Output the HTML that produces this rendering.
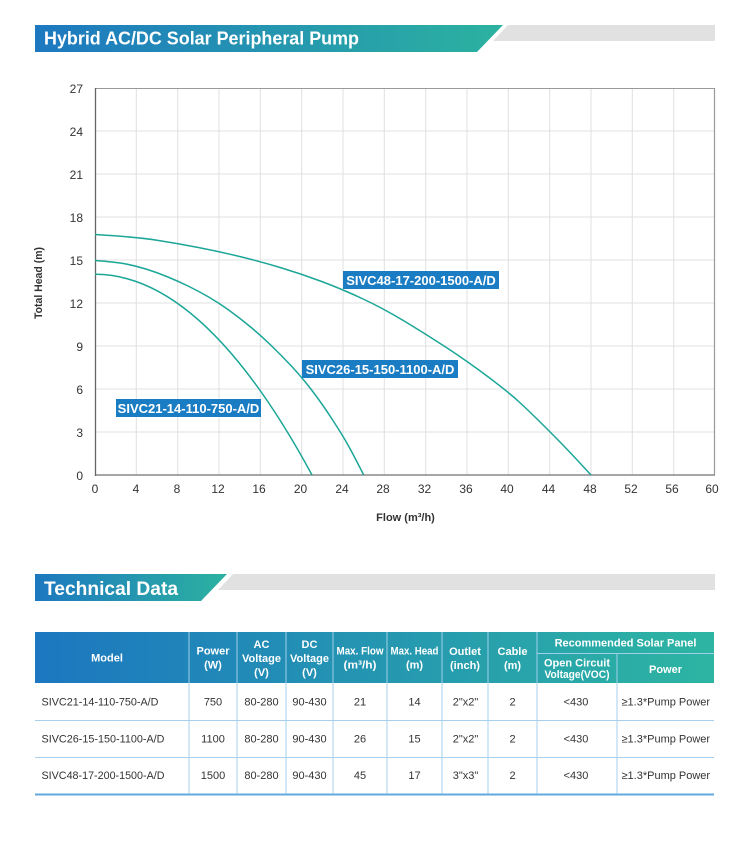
<!DOCTYPE html>
<html><head><meta charset="utf-8"><style>
html,body{margin:0;padding:0;background:#fff;}
svg{display:block;font-family:"Liberation Sans",Arial,sans-serif;}
</style></head><body>
<svg width="750" height="847" viewBox="0 0 750 847" xmlns="http://www.w3.org/2000/svg">
<defs>
<linearGradient id="g1" x1="35" y1="0" x2="503" y2="0" gradientUnits="userSpaceOnUse">
<stop offset="0" stop-color="#1d78c0"/><stop offset="1" stop-color="#2cb2a0"/></linearGradient>
<linearGradient id="g2" x1="35" y1="0" x2="227" y2="0" gradientUnits="userSpaceOnUse">
<stop offset="0" stop-color="#1d78c0"/><stop offset="1" stop-color="#2cb2a0"/></linearGradient>
<linearGradient id="g3" x1="35" y1="0" x2="714" y2="0" gradientUnits="userSpaceOnUse">
<stop offset="0" stop-color="#1c77c0"/><stop offset="1" stop-color="#2db5a2"/></linearGradient>
</defs>
<rect width="750" height="847" fill="#fff"/>

<!-- Banner 1 -->
<polygon points="508,25 715,25 715,41 493,41" fill="#e1e1e1"/>
<polygon points="35,25 503,25 477,52 35,52" fill="url(#g1)"/>
<text x="44" y="44.5" font-size="18" font-weight="bold" fill="#fff" textLength="315" lengthAdjust="spacingAndGlyphs">Hybrid AC/DC Solar Peripheral Pump</text>

<!-- Chart grid -->
<g stroke="#e0e0e0" stroke-width="1">
<line x1="136.3" y1="88" x2="136.3" y2="475"/><line x1="177.7" y1="88" x2="177.7" y2="475"/>
<line x1="219" y1="88" x2="219" y2="475"/><line x1="260.3" y1="88" x2="260.3" y2="475"/>
<line x1="301.7" y1="88" x2="301.7" y2="475"/><line x1="343" y1="88" x2="343" y2="475"/>
<line x1="384.3" y1="88" x2="384.3" y2="475"/><line x1="425.7" y1="88" x2="425.7" y2="475"/>
<line x1="467" y1="88" x2="467" y2="475"/><line x1="508.3" y1="88" x2="508.3" y2="475"/>
<line x1="549.7" y1="88" x2="549.7" y2="475"/><line x1="591" y1="88" x2="591" y2="475"/>
<line x1="632.3" y1="88" x2="632.3" y2="475"/><line x1="673.7" y1="88" x2="673.7" y2="475"/>
<line x1="95" y1="131" x2="715" y2="131"/><line x1="95" y1="174" x2="715" y2="174"/>
<line x1="95" y1="217" x2="715" y2="217"/><line x1="95" y1="260" x2="715" y2="260"/>
<line x1="95" y1="303" x2="715" y2="303"/><line x1="95" y1="346" x2="715" y2="346"/>
<line x1="95" y1="389" x2="715" y2="389"/><line x1="95" y1="432" x2="715" y2="432"/>
</g>
<line x1="95" y1="88.5" x2="715" y2="88.5" stroke="#999" stroke-width="1"/>
<line x1="714.5" y1="88" x2="714.5" y2="475" stroke="#999" stroke-width="1.2"/>
<line x1="95" y1="475" x2="715" y2="475" stroke="#888" stroke-width="1.5"/>
<line x1="95.5" y1="88" x2="95.5" y2="476" stroke="#666" stroke-width="1.3"/>

<!-- Y tick labels -->
<g font-size="12" fill="#333" text-anchor="end">
<text x="83" y="93">27</text><text x="83" y="136">24</text><text x="83" y="179">21</text>
<text x="83" y="222">18</text><text x="83" y="265">15</text><text x="83" y="308">12</text>
<text x="83" y="351">9</text><text x="83" y="394">6</text><text x="83" y="437">3</text>
<text x="83" y="480">0</text>
</g>
<!-- X tick labels -->
<g font-size="12" fill="#333" text-anchor="middle">
<text x="95" y="493">0</text><text x="136" y="493">4</text><text x="177" y="493">8</text>
<text x="218" y="493">12</text><text x="259" y="493">16</text><text x="300.5" y="493">20</text>
<text x="342" y="493">24</text><text x="383" y="493">28</text><text x="424.5" y="493">32</text>
<text x="466" y="493">36</text><text x="507" y="493">40</text><text x="548.5" y="493">44</text>
<text x="590" y="493">48</text><text x="631" y="493">52</text><text x="672" y="493">56</text>
<text x="712" y="493">60</text>
</g>
<text x="0" y="0" transform="translate(42,283) rotate(-90)" font-size="11" font-weight="bold" fill="#333" text-anchor="middle" textLength="72" lengthAdjust="spacingAndGlyphs">Total Head (m)</text>
<text x="405.5" y="521" font-size="11" font-weight="bold" fill="#333" text-anchor="middle">Flow (m³/h)</text>

<!-- Curves -->
<g fill="none" stroke="#1ba697" stroke-width="1.5" stroke-linejoin="round">
<path d="M95,274.3 Q203.5,274.3 312,475"/>
<path d="M95,260.5 Q115.7,262 126,264 Q136.3,266 146.65,269.25 Q157,272.5 167.35,276.75 Q177.7,281 188,286 Q198.3,291 208.65,297 Q219,303 229.35,310.5 Q239.7,318 250,326.5 Q260.3,335 270.65,345 Q281,355 291.35,366 Q301.7,377 312,390.5 Q322.3,404 332.65,420 Q343,436 348.15,445.25 Q353.3,454.5 363.7,475"/>
<path d="M95,234.5 Q136.3,237 157,240.25 Q177.7,243.5 198.35,247.5 Q219,251.5 239.65,256.5 Q260.3,261.5 281,267.75 Q301.7,274 322.35,281.75 Q343,289.5 363.65,299.25 Q384.3,309 405,321.5 Q425.7,334 446.35,347.5 Q467,361 487.65,376.5 Q508.3,392 518.65,401.5 Q529,411 539.35,421.25 Q549.7,431.5 560,442 Q570.3,452.5 591,475"/>
</g>

<!-- Curve labels -->
<rect x="343" y="271" width="156" height="18" fill="#1a7cc3"/>
<text x="421" y="285" font-size="13" font-weight="bold" fill="#fff" text-anchor="middle">SIVC48-17-200-1500-A/D</text>
<rect x="302" y="360" width="156" height="18" fill="#1a7cc3"/>
<text x="380" y="374" font-size="13" font-weight="bold" fill="#fff" text-anchor="middle">SIVC26-15-150-1100-A/D</text>
<rect x="116" y="399" width="145" height="18" fill="#1a7cc3"/>
<text x="188.5" y="413" font-size="13" font-weight="bold" fill="#fff" text-anchor="middle">SIVC21-14-110-750-A/D</text>

<!-- Banner 2 -->
<polygon points="233,574 715,574 715,590 218,590" fill="#e1e1e1"/>
<polygon points="35,574 227,574 201,601 35,601" fill="url(#g2)"/>
<text x="44" y="595" font-size="19.5" font-weight="bold" fill="#fff" textLength="134" lengthAdjust="spacingAndGlyphs">Technical Data</text>

<!-- Table header -->
<rect x="35" y="632" width="679" height="51" fill="url(#g3)"/>
<g stroke="#9fd0ea" stroke-width="1">
<line x1="189" y1="632" x2="189" y2="683"/><line x1="237" y1="632" x2="237" y2="683"/>
<line x1="286" y1="632" x2="286" y2="683"/><line x1="333" y1="632" x2="333" y2="683"/>
<line x1="387" y1="632" x2="387" y2="683"/><line x1="442" y1="632" x2="442" y2="683"/>
<line x1="488" y1="632" x2="488" y2="683"/><line x1="537" y1="632" x2="537" y2="683"/>
<line x1="617" y1="653" x2="617" y2="683"/><line x1="537" y1="653.5" x2="714" y2="653.5"/>
</g>
<g font-size="11" font-weight="bold" fill="#fff" text-anchor="middle">
<text x="107" y="661.5">Model</text>
<text x="213" y="654.5">Power</text><text x="213" y="668.5">(W)</text>
<text x="261.5" y="648">AC</text><text x="261.5" y="662">Voltage</text><text x="261.5" y="676">(V)</text>
<text x="309.5" y="648">DC</text><text x="309.5" y="662">Voltage</text><text x="309.5" y="676">(V)</text>
<text x="360" y="654.5" textLength="47" lengthAdjust="spacingAndGlyphs">Max. Flow</text><text x="360" y="668.5" textLength="33" lengthAdjust="spacingAndGlyphs">(m³/h)</text>
<text x="414.5" y="654.5" textLength="48" lengthAdjust="spacingAndGlyphs">Max. Head</text><text x="414.5" y="668.5">(m)</text>
<text x="465" y="655">Outlet</text><text x="465" y="669">(inch)</text>
<text x="512.5" y="655">Cable</text><text x="512.5" y="669">(m)</text>
<text x="625.5" y="646.5">Recommended Solar Panel</text>
<text x="577" y="666.5">Open Circuit</text><text x="577" y="678" textLength="65" lengthAdjust="spacingAndGlyphs">Voltage(VOC)</text>
<text x="665.5" y="673">Power</text>
</g>

<!-- Table body lines -->
<g stroke="#a6d0ee" stroke-width="1">
<line x1="189" y1="683" x2="189" y2="794"/><line x1="237" y1="683" x2="237" y2="794"/>
<line x1="286" y1="683" x2="286" y2="794"/><line x1="333" y1="683" x2="333" y2="794"/>
<line x1="387" y1="683" x2="387" y2="794"/><line x1="442" y1="683" x2="442" y2="794"/>
<line x1="488" y1="683" x2="488" y2="794"/><line x1="537" y1="683" x2="537" y2="794"/>
<line x1="617" y1="683" x2="617" y2="794"/>
<line x1="35" y1="720.5" x2="714" y2="720.5"/><line x1="35" y1="757.5" x2="714" y2="757.5"/>
</g>
<line x1="35" y1="794.5" x2="714" y2="794.5" stroke="#62aadd" stroke-width="2"/>

<!-- Table body text -->
<g font-size="11" fill="#333">
<text x="41.5" y="705.5" textLength="117" lengthAdjust="spacingAndGlyphs">SIVC21-14-110-750-A/D</text>
<text x="41.5" y="742.5" textLength="123" lengthAdjust="spacingAndGlyphs">SIVC26-15-150-1100-A/D</text>
<text x="41.5" y="779" textLength="123" lengthAdjust="spacingAndGlyphs">SIVC48-17-200-1500-A/D</text>
</g>
<g font-size="11" fill="#333" text-anchor="middle">
<text x="213" y="705.5">750</text><text x="261.5" y="705.5">80-280</text><text x="309.5" y="705.5">90-430</text>
<text x="360" y="705.5">21</text><text x="414.5" y="705.5">14</text><text x="465.5" y="705.5">2"x2"</text>
<text x="512.5" y="705.5">2</text><text x="576" y="705.5">&lt;430</text><text x="665.8" y="705.5">≥1.3*Pump Power</text>

<text x="213" y="742.5">1100</text><text x="261.5" y="742.5">80-280</text><text x="309.5" y="742.5">90-430</text>
<text x="360" y="742.5">26</text><text x="414.5" y="742.5">15</text><text x="465.5" y="742.5">2"x2"</text>
<text x="512.5" y="742.5">2</text><text x="576" y="742.5">&lt;430</text><text x="665.8" y="742.5">≥1.3*Pump Power</text>

<text x="213" y="779">1500</text><text x="261.5" y="779">80-280</text><text x="309.5" y="779">90-430</text>
<text x="360" y="779">45</text><text x="414.5" y="779">17</text><text x="465.5" y="779">3"x3"</text>
<text x="512.5" y="779">2</text><text x="576" y="779">&lt;430</text><text x="665.8" y="779">≥1.3*Pump Power</text>
</g>
</svg>
</body></html>
